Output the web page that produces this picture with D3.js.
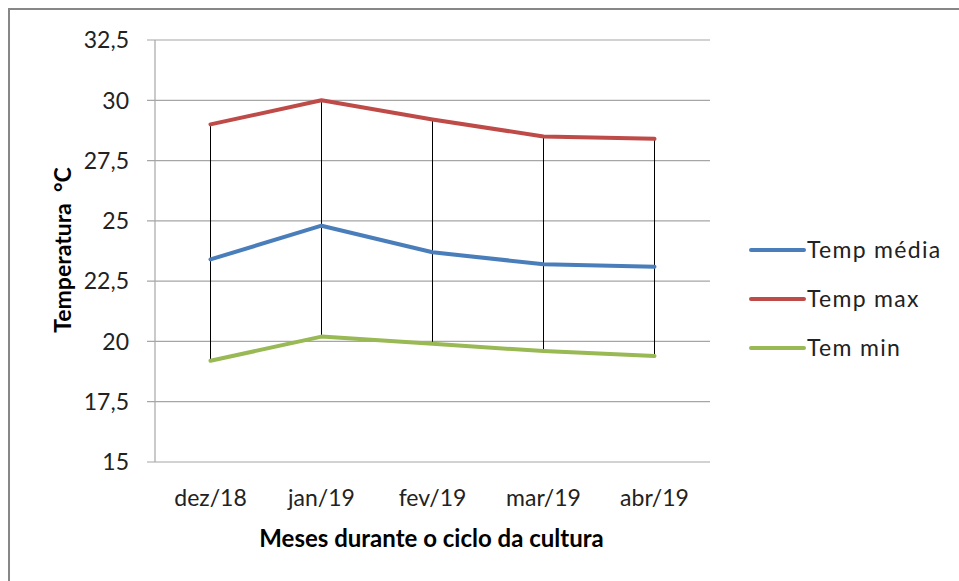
<!DOCTYPE html>
<html>
<head>
<meta charset="utf-8">
<script src="https://cdnjs.cloudflare.com/ajax/libs/d3/7.8.5/d3.min.js"></script>
<style>
  body { margin: 0; background: #fff; }
  svg { display: block; font-family: Lato, "Open Sans", sans-serif; }
</style>
</head>
<body>
<svg id="chart" width="959" height="581"></svg>
<script>
// Data
const months = ["dez/18", "jan/19", "fev/19", "mar/19", "abr/19"];
const tempMedia = [23.4, 24.8, 23.7, 23.2, 23.1];
const tempMax = [29.0, 30.0, 29.2, 28.5, 28.4];
const temMin = [19.2, 20.2, 19.9, 19.6, 19.4];
const yTicks = [15, 17.5, 20, 22.5, 25, 27.5, 30, 32.5];
const seriesNames = ["Temp média", "Temp max", "Tem min"];

const colors = ["#4a7ebb", "#be4b48", "#98b954"];

const svg = d3.select("#chart");

// outer frame (cut off at right and bottom like the picture)
svg.append("rect")
   .attr("x", 9).attr("y", 9)
   .attr("width", 980).attr("height", 600)
   .attr("fill", "none")
   .attr("stroke", "#878787")
   .attr("stroke-width", 2);

const plotL = 155, plotR = 710, plotT = 40, plotB = 462;

const x = d3.scaleBand().domain(months).range([plotL, plotR]);
const y = d3.scaleLinear().domain([15, 32.5]).range([plotB, plotT]);
const cx = d => x(d) + x.bandwidth() / 2;

// gridlines
svg.append("g")
   .selectAll("line")
   .data(yTicks)
   .enter().append("line")
   .attr("x1", plotL - 8)
   .attr("x2", plotR)
   .attr("y1", d => y(d))
   .attr("y2", d => y(d))
   .attr("stroke", "#a6a6a6")
   .attr("stroke-width", 1.2);

// y axis line
svg.append("line")
   .attr("x1", plotL).attr("x2", plotL)
   .attr("y1", plotT).attr("y2", plotB)
   .attr("stroke", "#a6a6a6")
   .attr("stroke-width", 1.2);

// y tick labels
const fmt = d => String(d).replace(".", ",");
svg.append("g")
   .selectAll("text")
   .data(yTicks)
   .enter().append("text")
   .attr("x", plotL - 26)
   .attr("y", d => y(d))
   .attr("dy", "0.36em")
   .attr("text-anchor", "end")
   .attr("font-size", 23)
   .attr("fill", "#222")
   .text(fmt);

// x tick labels
svg.append("g")
   .selectAll("text")
   .data(months)
   .enter().append("text")
   .attr("x", cx)
   .attr("y", 506)
   .attr("text-anchor", "middle")
   .attr("font-size", 23)
   .attr("fill", "#222")
   .text(d => d);

// high-low lines
svg.append("g")
   .selectAll("line")
   .data(months)
   .enter().append("line")
   .attr("x1", cx)
   .attr("x2", cx)
   .attr("y1", (d, i) => y(tempMax[i]))
   .attr("y2", (d, i) => y(temMin[i]))
   .attr("stroke", "#000")
   .attr("stroke-width", 1);

// series lines
const series = [tempMedia, tempMax, temMin];
const line = d3.line()
   .x((d, i) => cx(months[i]))
   .y(d => y(d));

series.forEach((s, k) => {
  svg.append("path")
     .datum(s)
     .attr("d", line)
     .attr("fill", "none")
     .attr("stroke", colors[k])
     .attr("stroke-width", 4)
     .attr("stroke-linecap", "round")
     .attr("stroke-linejoin", "round");
});

// legend
const legend = svg.append("g");
seriesNames.forEach((name, k) => {
  const ly = 250 + k * 49;
  legend.append("line")
        .attr("x1", 751).attr("x2", 804)
        .attr("y1", ly).attr("y2", ly)
        .attr("stroke", colors[k])
        .attr("stroke-width", 4)
        .attr("stroke-linecap", "round");
  legend.append("text")
        .attr("x", 807)
        .attr("y", ly)
        .attr("dy", "0.36em")
        .attr("font-size", 23)
        .attr("letter-spacing", 1.3)
        .attr("fill", "#222")
        .text(name);
});

// axis titles
svg.append("text")
   .attr("x", (plotL + plotR) / 2 - 1)
   .attr("y", 547)
   .attr("text-anchor", "middle")
   .attr("font-size", 24)
   .attr("font-weight", "bold")
   .text("Meses durante o ciclo da cultura");

svg.append("text")
   .attr("transform", "translate(71,250) rotate(-90)")
   .attr("text-anchor", "middle")
   .attr("font-size", 23)
   .attr("font-weight", "bold")
   .text("Temperatura \u00a0°C");
</script>
</body>
</html>
